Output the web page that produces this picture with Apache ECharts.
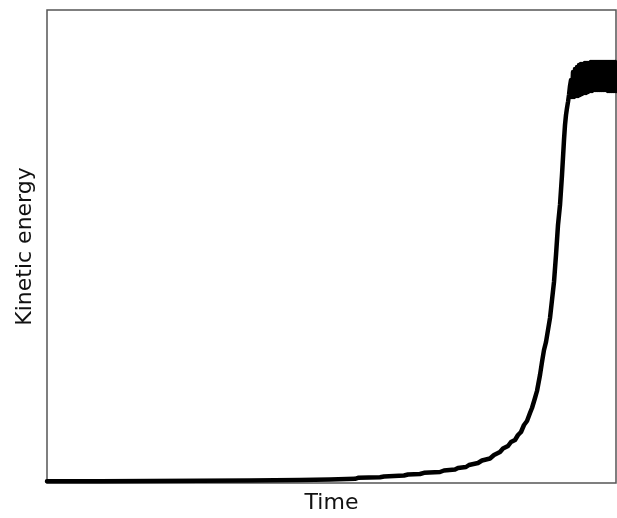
<!DOCTYPE html>
<html>
<head>
<meta charset="utf-8">
<script src="https://cdn.jsdelivr.net/npm/echarts@6/dist/echarts.min.js"></script>
<style>html,body{margin:0;padding:0;background:#fff}#c{width:617px;height:518px}</style>
</head>
<body>
<div id="c"></div>
<script>
// Time (arbitrary units) and kinetic energy (arbitrary units)
const timeValues = [
  0, 53, 103, 153, 203, 253, 283, 308, 311, 333, 337, 357, 361, 373, 377, 393, 397, 408, 411,
  419, 422, 431, 435, 443, 447, 453, 456, 461, 464, 468, 471, 474, 477, 480, 483, 485, 488, 490,
  493, 495, 497, 499, 501, 503, 505, 507, 509, 511, 513, 515, 517, 518, 519, 520, 521, 522, 523, 524,
  525, 526, 527, 528, 529, 530, 531, 532, 533, 534, 535, 536, 537, 538, 539, 540, 541, 542, 543,
  544, 545, 546, 547, 548, 549, 550, 551, 552, 553, 554, 555, 556, 557, 558, 559, 560, 561, 562,
  563, 564, 565, 566, 567, 568, 569
];
const energyValues = [
  1.7, 1.8, 2, 2.2, 2.5, 3, 3.5, 4.2, 5.2, 5.7, 6.5, 7.5, 8.5, 9, 10.2, 11, 12.5, 13.5, 15,
  16, 18, 20, 22.5, 24.5, 28, 31, 34.5, 37, 41, 43, 48, 51, 58, 62, 70, 75, 85, 92,
  108, 121, 133, 141, 153, 165, 183, 201, 228, 258, 278, 308, 343, 358, 368, 375, 381, 388, 397, 403,
  386, 411, 386, 414, 387, 416, 387, 418, 388, 419, 389, 419, 390, 420, 390, 420, 391,
  420, 392, 421, 392, 421, 393, 421, 393, 421, 393, 421, 393, 421, 393, 421, 393, 421, 393,
  421, 392, 421, 392, 421, 392, 421, 392, 421, 392
];

const seriesData = timeValues.map((t, i) => [t, energyValues[i]]);

const chart = echarts.init(document.getElementById('c'), null, { renderer: 'canvas' });
const font = 'DejaVu Sans';
chart.setOption({
  animation: false,
  backgroundColor: '#ffffff',
  grid: {
    left: 47, top: 10, right: 1, bottom: 35,
    outerBoundsMode: 'none', containLabel: false,
    show: true, borderColor: '#555555', borderWidth: 1.5, backgroundColor: 'transparent'
  },
  xAxis: {
    type: 'value', min: 0, max: 569,
    name: 'Time', nameLocation: 'middle', nameGap: 9,
    nameTextStyle: { fontFamily: font, fontSize: 22, color: '#111' },
    axisLine: { show: false }, axisTick: { show: false }, axisLabel: { show: false },
    splitLine: { show: false }
  },
  yAxis: {
    type: 'value', min: 0, max: 473,
    name: 'Kinetic energy', nameLocation: 'middle', nameGap: 11,
    nameTextStyle: { fontFamily: font, fontSize: 22, color: '#111' },
    axisLine: { show: false }, axisTick: { show: false }, axisLabel: { show: false },
    splitLine: { show: false }
  },
  series: [{
    type: 'line',
    data: seriesData,
    showSymbol: false,
    symbol: 'none',
    clip: true,
    lineStyle: { color: '#000', width: 4.5, join: 'round', cap: 'round' }
  }]
});
</script>
</body>
</html>
